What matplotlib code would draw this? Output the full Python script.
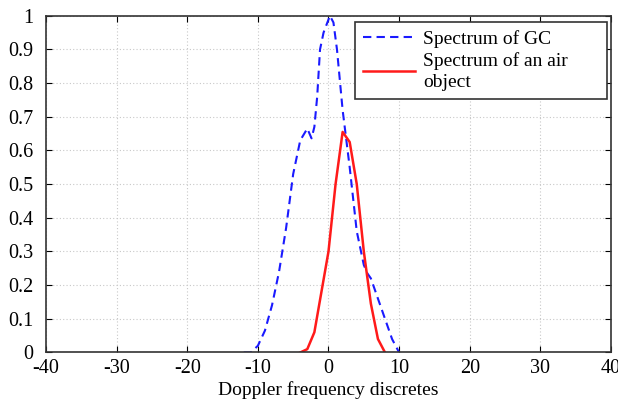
import matplotlib
matplotlib.use("Agg")
import matplotlib.pyplot as plt
from matplotlib.ticker import FuncFormatter

plt.rcParams['font.family'] = ['Liberation Serif', 'DejaVu Serif']

# Spectrum of GC (blue dashed)
gc_x = [-12, -11, -10, -9, -8, -7, -6, -5, -4, -3, -2.4, -2, -1.6, -1.2, -0.7, 0.2, 0.7, 1.2, 2, 3, 4, 5, 5.5, 6, 7, 8, 9, 10]
gc_y = [0.0, 0.0, 0.02, 0.065, 0.14, 0.24, 0.37, 0.53, 0.63, 0.665, 0.636, 0.67, 0.76, 0.9, 0.95, 1.0, 0.98, 0.9, 0.72, 0.55, 0.36, 0.26, 0.235, 0.22, 0.16, 0.1, 0.04, 0.0]

# Spectrum of an air object (red solid)
air_x = [-4, -3, -2, -1, 0, 1, 2, 3, 4, 5, 6, 7, 8]
air_y = [0.0, 0.01, 0.06, 0.18, 0.30, 0.50, 0.655, 0.625, 0.50, 0.30, 0.145, 0.04, 0.0]

legend_labels = ['Spectrum of GC', 'Spectrum of an air\nobject']
x_label = 'Doppler frequency discretes'
x_ticks = [-40, -30, -20, -10, 0, 10, 20, 30, 40]
y_ticks = [0, 0.1, 0.2, 0.3, 0.4, 0.5, 0.6, 0.7, 0.8, 0.9, 1]

fig = plt.figure(figsize=(6.18, 4.04), dpi=100)
ax = fig.add_axes([0.0744, 0.1275, 0.9143, 0.8335])

ax.plot(gc_x, gc_y, color='#1a1aff', linestyle=(0, (4, 2.5)), linewidth=1.5, label=legend_labels[0])
ax.plot(air_x, air_y, color='#ff1a1a', linestyle='-', linewidth=1.8, label=legend_labels[1])

ax.set_xlim(-40, 40)
ax.set_ylim(0, 1)
ax.set_xticks(x_ticks)
ax.set_yticks(y_ticks)
ax.yaxis.set_major_formatter(FuncFormatter(lambda v, p: ('%g' % round(v, 2))))
ax.xaxis.set_major_formatter(FuncFormatter(lambda v, p: '%d' % v))
ax.tick_params(direction='in', top=True, right=True, length=4, labelsize=14.5, colors='black')
ax.tick_params(axis='x', pad=5)
ax.tick_params(axis='y', pad=9)
ax.grid(True, linestyle=(0, (1, 2)), color='#c8c8c8', linewidth=0.8)
for s in ax.spines.values():
    s.set_color('#333333')
    s.set_linewidth(1.2)

ax.set_xlabel(x_label, fontsize=14, labelpad=2)

leg = ax.legend(loc='upper left', bbox_to_anchor=(0.547, 0.0, 0.446, 0.981), mode='expand',
                fontsize=14, fancybox=False, framealpha=1, edgecolor='#333333',
                handlelength=2.7, handletextpad=0.4, borderpad=0.4, labelspacing=0.2,
                borderaxespad=0.0)
leg.get_frame().set_linewidth(1.2)
leg.get_texts()[1].set_linespacing(1.35)

fig.savefig('out.png', dpi=100)
